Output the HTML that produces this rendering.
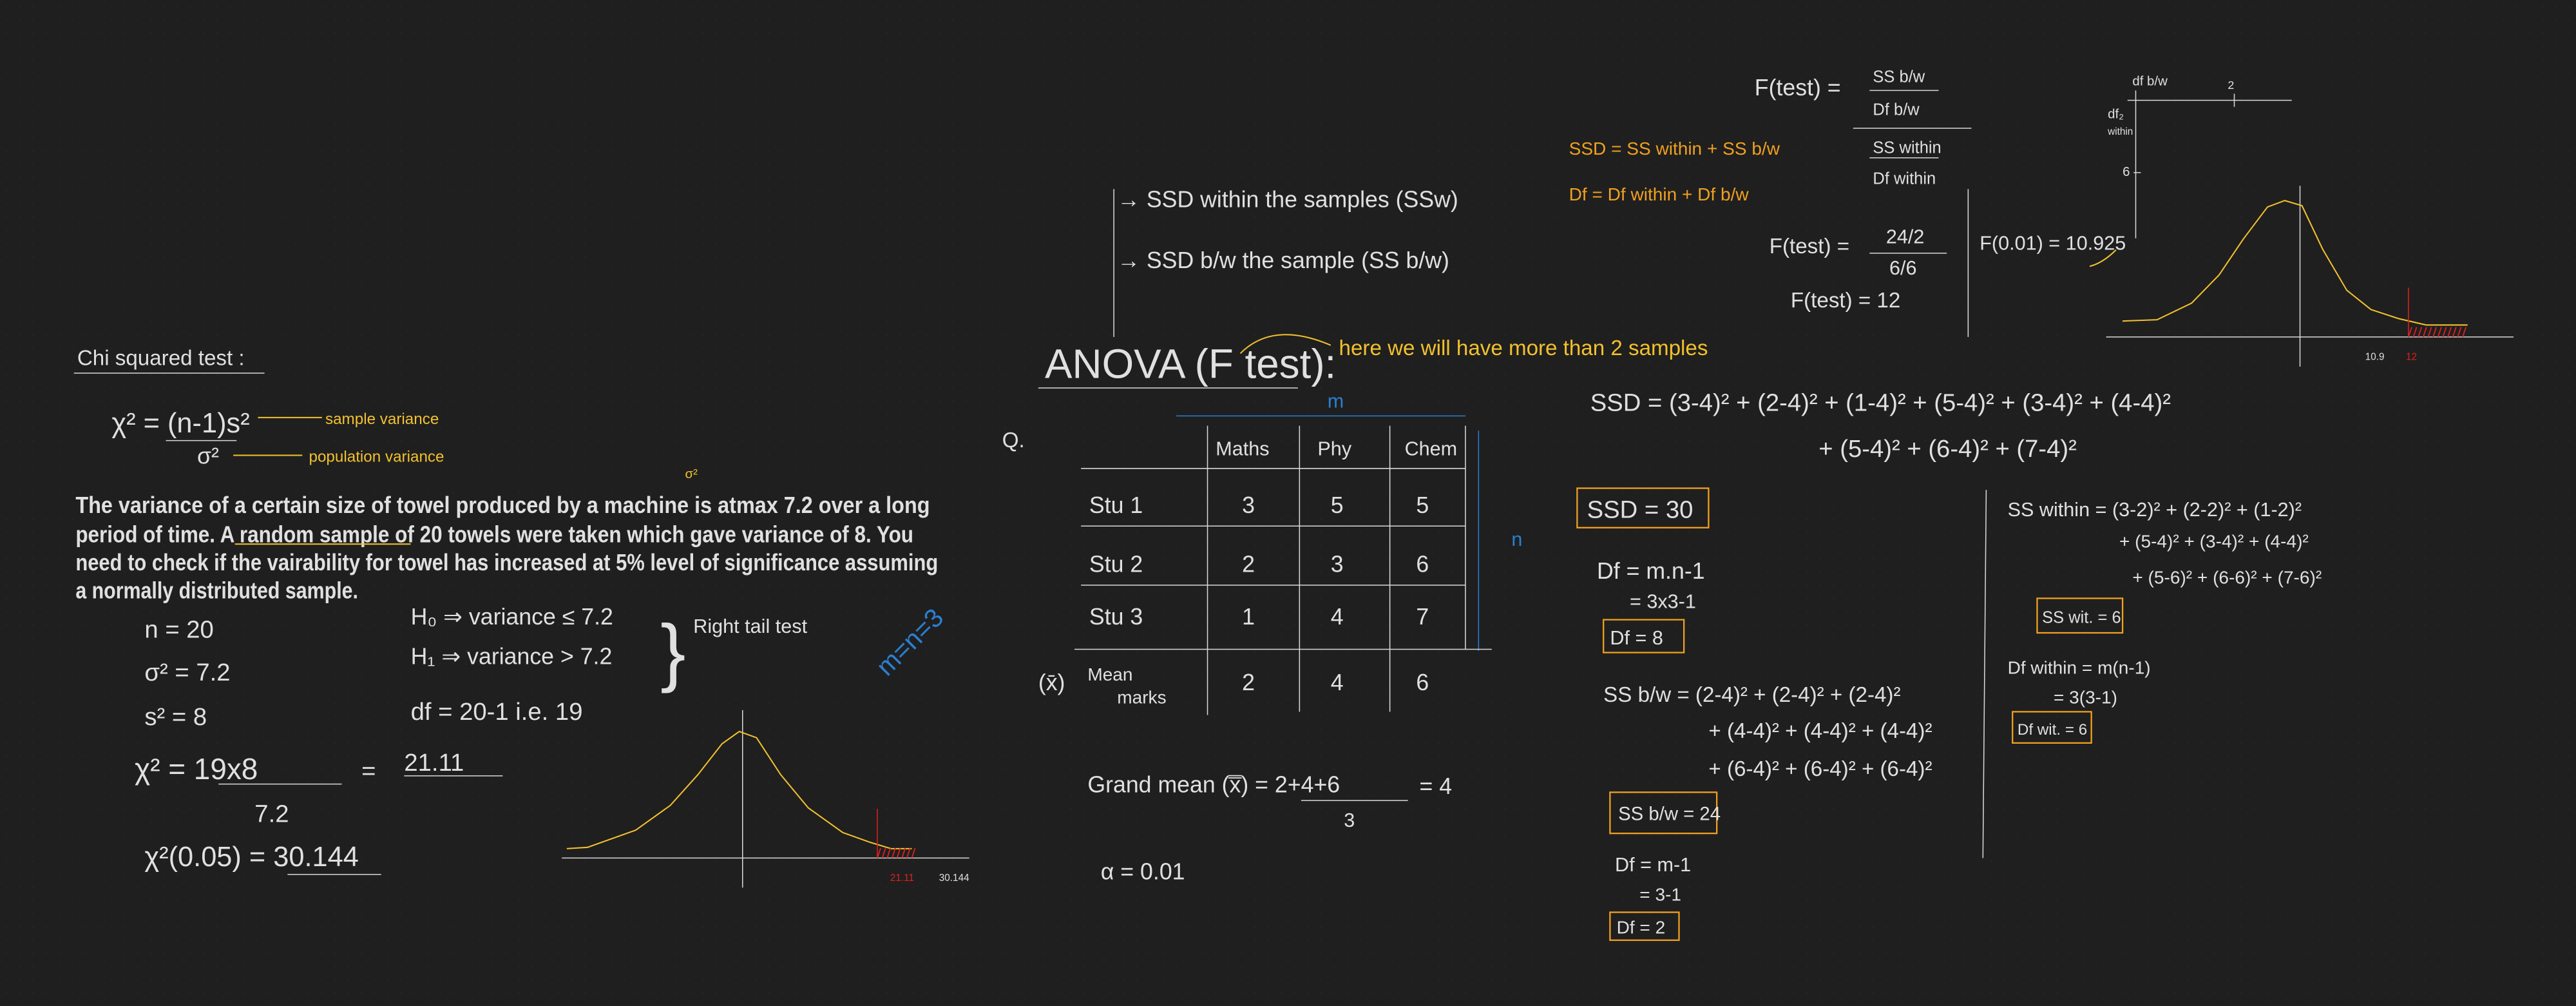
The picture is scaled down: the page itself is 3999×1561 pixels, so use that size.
<!DOCTYPE html>
<html><head><meta charset="utf-8">
<style>
html,body{margin:0;padding:0;background:#1f1f1f;}
svg{display:block;}
text{font-family:"Liberation Sans",sans-serif;fill:#e0e0e0;}
.y{fill:#f2c12e;}
.o{fill:#f0a020;}
.b{fill:#2a7fd0;}
.r{fill:#e02020;}
.ln{stroke:#d8d8d8;stroke-width:0.6;fill:none;}
.yl{stroke:#f2c12e;stroke-width:0.8;fill:none;}
.box{stroke:#f0a020;stroke-width:0.9;fill:none;}
</style></head>
<body>
<svg width="3999" height="1561" viewBox="0 0 1568 612" xmlns="http://www.w3.org/2000/svg">
<defs>
<pattern id="dots" width="8" height="8" patternUnits="userSpaceOnUse"><circle cx="4" cy="4" r="0.35" fill="#2a2a2a"/></pattern>
</defs>
<rect width="1568" height="612" fill="#1f1f1f"/>
<rect width="1568" height="612" fill="url(#dots)"/>

<g>
<text x="47" y="222" font-size="13">Chi squared test :</text>
<line class="ln" x1="45" y1="227" x2="161" y2="227"/>
<text x="68" y="263" font-size="17">χ² = (n-1)s²</text>
<line class="ln" x1="101" y1="268" x2="144" y2="268"/>
<text x="120" y="282" font-size="14">σ²</text>
<line class="yl" x1="157" y1="254" x2="196" y2="254"/>
<text class="y" x="198" y="258" font-size="9.5">sample variance</text>
<line class="yl" x1="142" y1="277" x2="184" y2="277"/>
<text class="y" x="188" y="281" font-size="9.5">population variance</text>
<text class="y" x="417" y="291" font-size="8">σ²</text>
</g>

<g font-weight="bold">
<text x="46" y="312" font-size="14" textLength="520" lengthAdjust="spacingAndGlyphs">The variance of a certain size of towel produced by a machine is atmax 7.2 over a long</text>
<text x="46" y="330" font-size="14" textLength="510" lengthAdjust="spacingAndGlyphs">period of time. A random sample of 20 towels were taken which gave variance of 8. You</text>
<text x="46" y="347" font-size="14" textLength="525" lengthAdjust="spacingAndGlyphs">need to check if the vairability for towel has increased at 5% level of significance assuming</text>
<text x="46" y="364" font-size="14" textLength="172" lengthAdjust="spacingAndGlyphs">a normally distributed sample.</text>
<line class="yl" x1="143" y1="331" x2="250" y2="331"/>
</g>

<g font-size="15">
<text x="88" y="388">n = 20</text>
<text x="88" y="414">σ² = 7.2</text>
<text x="88" y="441">s² = 8</text>
<text x="82" y="474" font-size="18">χ² = 19x8</text>
<line class="ln" x1="133" y1="477" x2="208" y2="477"/>
<text x="155" y="500">7.2</text>
<text x="220" y="474">=</text>
<text x="246" y="469">21.11</text>
<line class="ln" x1="246" y1="472" x2="306" y2="472"/>
<text x="88" y="527" font-size="17">χ²(0.05) = 30.144</text>
<line class="ln" x1="175" y1="532" x2="232" y2="532"/>
<text x="250" y="380" font-size="14">H₀ ⇒ variance ≤ 7.2</text>
<text x="250" y="404" font-size="14">H₁ ⇒ variance &gt; 7.2</text>
<text x="402" y="412" font-size="46" font-weight="100" fill="#ccc">}</text>
<text x="422" y="385" font-size="12">Right tail test</text>
<text x="250" y="438">df = 20-1 i.e. 19</text>
<text class="b" x="540" y="412" font-size="16" transform="rotate(-45 540 412)">m=n=3</text>
</g>

<g id="chart1"></g>
<g id="chart2"></g>

<g>
<line class="ln" x1="678" y1="115" x2="678" y2="205"/>
<text x="680" y="126" font-size="14">→ SSD within the samples (SSw)</text>
<text x="680" y="163" font-size="14">→ SSD b/w the sample (SS b/w)</text>
<text x="636" y="230" font-size="25" font-weight="100">ANOVA (F test):</text>
<line class="ln" x1="632" y1="236" x2="790" y2="236"/>
<path class="yl" d="M755 215 Q775 195 810 210"/>
<text class="y" x="815" y="216" font-size="13">here we will have more than 2 samples</text>
<text class="o" x="955" y="94" font-size="11">SSD = SS within + SS b/w</text>
<text class="o" x="955" y="122" font-size="11">Df = Df within + Df b/w</text>
</g>

<g>
<text x="1068" y="58" font-size="14">F(test) =</text>
<text x="1140" y="50" font-size="10">SS b/w</text>
<line class="ln" x1="1138" y1="55" x2="1180" y2="55"/>
<text x="1140" y="70" font-size="10">Df b/w</text>
<line class="ln" x1="1128" y1="78" x2="1200" y2="78"/>
<text x="1140" y="93" font-size="10">SS within</text>
<line class="ln" x1="1138" y1="96" x2="1180" y2="96"/>
<text x="1140" y="112" font-size="10">Df within</text>
<text x="1077" y="154" font-size="13">F(test) =</text>
<text x="1148" y="148" font-size="12">24/2</text>
<line class="ln" x1="1138" y1="154" x2="1185" y2="154"/>
<text x="1150" y="167" font-size="12">6/6</text>
<text x="1090" y="187" font-size="13">F(test) = 12</text>
<line class="ln" x1="1198" y1="115" x2="1198" y2="205"/>
<text x="1205" y="152" font-size="12">F(0.01) = 10.925</text>
<path class="yl" d="M1272 162 Q1280 160 1288 152"/>
</g>

<g font-size="14">
<text x="610" y="272" font-size="13">Q.</text>
<text class="b" x="808" y="248" font-size="12">m</text>
<line x1="716" y1="253" x2="892" y2="253" stroke="#2a7fd0" stroke-width="0.6"/>
<text class="b" x="920" y="332" font-size="12">n</text>
<line x1="900" y1="262" x2="900" y2="396" stroke="#2a7fd0" stroke-width="0.6"/>
<text x="740" y="277" font-size="12">Maths</text>
<text x="802" y="277" font-size="12">Phy</text>
<text x="855" y="277" font-size="12">Chem</text>
<line class="ln" x1="658" y1="285" x2="892" y2="285"/>
<line class="ln" x1="658" y1="320" x2="892" y2="320"/>
<line class="ln" x1="658" y1="356" x2="892" y2="356" stroke-width="0.9"/>
<line class="ln" x1="654" y1="395" x2="908" y2="395" stroke-width="0.9"/>
<line class="ln" x1="735" y1="259" x2="735" y2="435"/>
<line class="ln" x1="791" y1="259" x2="791" y2="433" stroke-width="0.9"/>
<line class="ln" x1="846" y1="259" x2="846" y2="433"/>
<line class="ln" x1="892" y1="259" x2="892" y2="395"/>
<text x="663" y="312">Stu 1</text><text x="756" y="312">3</text><text x="810" y="312">5</text><text x="862" y="312">5</text>
<text x="663" y="348">Stu 2</text><text x="756" y="348">2</text><text x="810" y="348">3</text><text x="862" y="348">6</text>
<text x="663" y="380">Stu 3</text><text x="756" y="380">1</text><text x="810" y="380">4</text><text x="862" y="380">7</text>
<text x="632" y="420">(x̄)</text><text x="662" y="414" font-size="11">Mean</text><text x="680" y="428" font-size="11">marks</text>
<text x="756" y="420">2</text><text x="810" y="420">4</text><text x="862" y="420">6</text>
<text x="662" y="482" font-size="14">Grand mean (x̿) = 2+4+6</text>
<line class="ln" x1="792" y1="487" x2="857" y2="487"/>
<text x="818" y="503" font-size="12">3</text>
<text x="864" y="483">= 4</text>
<text x="670" y="535">α = 0.01</text>
</g>

<g font-size="14">
<text x="968" y="250" font-size="15">SSD = (3-4)² + (2-4)² + (1-4)² + (5-4)² + (3-4)² + (4-4)²</text>
<text x="1107" y="278" font-size="15">+ (5-4)² + (6-4)² + (7-4)²</text>
<rect class="box" x="960" y="297" width="80" height="24"/>
<text x="966" y="315" font-size="15">SSD = 30</text>
<text x="972" y="352">Df = m.n-1</text>
<text x="992" y="370" font-size="12">= 3x3-1</text>
<rect class="box" x="976" y="377" width="49" height="20"/>
<text x="980" y="392" font-size="12">Df = 8</text>
<text x="976" y="427" font-size="13">SS b/w = (2-4)² + (2-4)² + (2-4)²</text>
<text x="1040" y="449" font-size="13">+ (4-4)² + (4-4)² + (4-4)²</text>
<text x="1040" y="472" font-size="13">+ (6-4)² + (6-4)² + (6-4)²</text>
<rect class="box" x="980" y="482" width="65" height="25"/>
<text x="985" y="499" font-size="11.5">SS b/w = 24</text>
<text x="983" y="530" font-size="12">Df = m-1</text>
<text x="998" y="548" font-size="11">= 3-1</text>
<rect class="box" x="980" y="555" width="42" height="17"/>
<text x="984" y="568" font-size="11">Df = 2</text>
<line class="ln" x1="1209" y1="298" x2="1207" y2="522"/>
<text x="1222" y="314" font-size="12">SS within = (3-2)² + (2-2)² + (1-2)²</text>
<text x="1290" y="333" font-size="11">+ (5-4)² + (3-4)² + (4-4)²</text>
<text x="1298" y="355" font-size="11">+ (5-6)² + (6-6)² + (7-6)²</text>
<rect class="box" x="1240" y="364" width="52" height="21"/>
<text x="1243" y="379" font-size="10">SS wit. = 6</text>
<text x="1222" y="410" font-size="11">Df within = m(n-1)</text>
<text x="1250" y="428" font-size="11">= 3(3-1)</text>
<rect class="box" x="1225" y="433" width="48" height="19"/>
<text x="1228" y="447" font-size="9.5">Df wit. = 6</text>
</g>

<script>
const c1X = [0, 0.06, 0.2, 0.3, 0.38, 0.45, 0.5, 0.55, 0.62, 0.7, 0.8, 0.88, 0.94, 1];
const c1Y = [0.05, 0.06, 0.2, 0.4, 0.65, 0.9, 1.0, 0.95, 0.65, 0.38, 0.18, 0.1, 0.05, 0.05];
const c1Ticks = ["21.11", "30.144"];
const c1TickPos = [0.83, 0.95];
const c2X = [0, 0.1, 0.2, 0.28, 0.35, 0.42, 0.47, 0.52, 0.58, 0.65, 0.72, 0.8, 0.88, 1];
const c2Y = [0.06, 0.07, 0.2, 0.42, 0.7, 0.95, 1.0, 0.96, 0.62, 0.3, 0.15, 0.08, 0.03, 0.03];
const c2Ticks = ["10.9", "12"];
const c2TickPos = [0.66, 0.76];

function drawChart(gid, X, Y, ticks, tickPos, box) {
  const g = document.getElementById(gid);
  const ns = "http://www.w3.org/2000/svg";
  const sx = v => box.cx0 + v * (box.cx1 - box.cx0);
  const sy = v => box.base - v * (box.base - box.peak);
  const mk = (t, a) => { const e = document.createElementNS(ns, t); for (const k in a) e.setAttribute(k, a[k]); g.appendChild(e); return e; };
  const ax = mk('line', {x1: box.ax0, y1: box.axisY, x2: box.ax1, y2: box.axisY, class: 'ln'});
  
  
  const va = mk('line', {x1: box.vx, y1: box.vTop, x2: box.vx, y2: box.axisY + 18, class: 'ln'});
  
  
  let d = '';
  X.forEach((x, i) => { d += (i ? 'L' : 'M') + sx(x).toFixed(1) + ' ' + sy(Y[i]).toFixed(1) + ' '; });
  const cur = mk('path', {d: d, class: 'yl'});
  
  
  const rl = mk('line', {x1: box.redX, y1: box.axisY - 30, x2: box.redX, y2: box.axisY, stroke: '#e02020', 'stroke-width': 0.6});
  
  
  for (let x = box.redX; x < box.redEnd; x += 3) {
    const h = mk('line', {x1: x, y1: box.axisY, x2: x + 2, y2: box.axisY - 6, stroke: '#e02020', 'stroke-width': 0.7});
    
    
  }
  ticks.forEach((t, i) => {
    const x = box.ax0 + tickPos[i] * (box.ax1 - box.ax0);
    const tx = mk('text', {x: x - 6, y: box.axisY + 14, 'font-size': 6, class: i === box.redIdx ? 'r' : ''});
    
    
    tx.textContent = t;
  });
}
drawChart('chart1', c1X, c1Y, c1Ticks, c1TickPos,
  {cx0: 345, cx1: 555, base: 520, peak: 445, ax0: 342, ax1: 590, axisY: 522, vx: 452, vTop: 432, redX: 534, redEnd: 556, redIdx: 0});
drawChart('chart2', c2X, c2Y, c2Ticks, c2TickPos,
  {cx0: 1292, cx1: 1502, base: 200, peak: 122, ax0: 1282, ax1: 1530, axisY: 205, vx: 1400, vTop: 113, redX: 1466, redEnd: 1502, redIdx: 1});
</script>

<g>
<line class="ln" x1="1295" y1="61" x2="1395" y2="61"/>
<line class="ln" x1="1300" y1="55" x2="1300" y2="145"/>
<line class="ln" x1="1360" y1="57" x2="1360" y2="65"/>
<text x="1298" y="52" font-size="8">df b/w</text>
<text x="1356" y="54" font-size="7">2</text>
<text x="1283" y="72" font-size="8">df₂</text>
<text x="1283" y="82" font-size="6">within</text>
<text x="1292" y="107" font-size="8">6 –</text>
</g>
</svg>
</body></html>
